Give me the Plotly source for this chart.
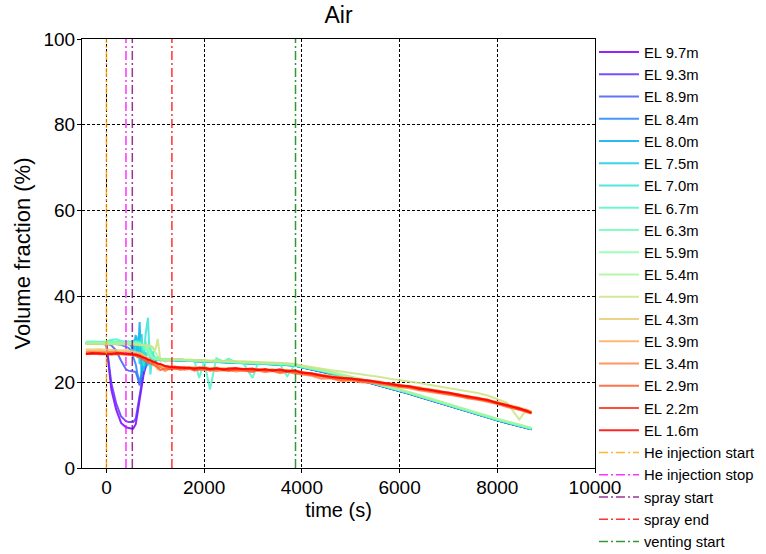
import numpy as np
import plotly.graph_objects as go

# Sample times (s), shared by every measurement series
time_s = [-420, -300, -150, 0, 100, 200, 300, 400, 450, 500,
          550, 600, 640, 680, 720, 760, 800, 850, 900, 950,
          1000, 1050, 1100, 1200, 1300, 1400, 1500, 1600, 1700, 1800,
          1900, 2000, 2120, 2250, 2400, 2500, 2650, 2800, 2990, 3100,
          3250, 3400, 3550, 3700, 3850, 4000, 4200, 4400, 4600, 4800,
          5000, 5200, 5400, 5600, 5800, 6000, 6200, 6400, 6600, 6800,
          7000, 7200, 7400, 7600, 7800, 8000, 8200, 8450, 8600, 8700]

# Air volume fraction (%) at each elevation
el_9_7 = [29.0, 29.0, 29.0, 28.8, 18.3, 13.6, 10.5, 9.5, 9.3, 9.2,
          9.2, 10.2, 13.0, 16.2, 19.0, 21.8, 23.4, 24.5, 25.1, 25.3,
          25.4, 25.4, 25.4, 25.4, 25.4, 25.3, 25.3, 25.2, 25.2, 25.1,
          25.1, 25.0, 25.0, 24.9, 24.9, 24.8, 24.7, 24.7, 24.6, 24.5,
          24.5, 24.4, 24.3, 24.2, 24.1, 23.5, 23.0, 22.5, 22.0, 21.5,
          21.0, 20.4, 19.8, 19.2, 18.6, 18.0, 17.3, 16.6, 15.9, 15.2,
          14.5, 13.8, 13.1, 12.4, 11.8, 11.1, 10.5, 9.8, 9.3, 9.0]
el_9_3 = [29.1, 29.1, 29.0, 28.9, 19.8, 15.0, 12.0, 10.9, 10.7, 10.7,
          10.7, 11.5, 14.2, 17.2, 19.8, 22.3, 23.8, 24.7, 25.1, 25.3,
          25.3, 25.3, 25.3, 25.3, 25.3, 25.2, 25.2, 25.1, 25.1, 25.0,
          25.0, 24.9, 24.9, 24.8, 24.8, 24.7, 24.6, 24.6, 24.5, 24.4,
          24.4, 24.3, 24.2, 24.1, 24.0, 23.5, 23.0, 22.5, 22.0, 21.5,
          21.0, 20.4, 19.8, 19.2, 18.6, 18.0, 17.3, 16.6, 15.9, 15.2,
          14.5, 13.8, 13.1, 12.4, 11.8, 11.1, 10.5, 9.8, 9.3, 9.0]
el_8_9 = [29.0, 29.0, 29.0, 29.0, 28.6, 27.4, 25.0, 23.0, 22.7, 22.6,
          22.6, 22.4, 21.0, 19.2, 21.5, 23.8, 24.8, 25.2, 25.3, 25.3,
          25.3, 25.2, 25.2, 25.2, 25.2, 25.1, 25.1, 25.0, 25.0, 24.9,
          24.9, 24.8, 24.8, 24.7, 24.7, 24.6, 24.5, 24.5, 24.4, 24.3,
          24.3, 24.2, 24.1, 24.0, 23.9, 23.5, 23.0, 22.5, 22.0, 21.5,
          21.0, 20.4, 19.8, 19.2, 18.6, 18.0, 17.3, 16.6, 15.9, 15.2,
          14.5, 13.8, 13.1, 12.4, 11.8, 11.1, 10.5, 9.8, 9.3, 9.0]
el_8_4 = [29.0, 29.0, 29.0, 29.0, 29.0, 28.9, 28.7, 28.3, 28.0, 27.4,
          26.0, 24.2, 21.6, 20.0, 22.3, 24.6, 25.2, 25.3, 25.3, 25.2,
          25.2, 25.2, 25.2, 25.2, 25.2, 25.1, 25.1, 25.0, 25.0, 24.9,
          24.9, 24.8, 24.8, 24.7, 24.7, 24.6, 24.5, 24.5, 24.4, 24.3,
          24.3, 24.2, 24.1, 24.0, 23.9, 23.5, 23.1, 22.6, 22.1, 21.6,
          21.1, 20.5, 19.9, 19.3, 18.7, 18.1, 17.4, 16.7, 16.0, 15.3,
          14.6, 13.9, 13.2, 12.5, 11.9, 11.2, 10.6, 9.9, 9.4, 9.1]
el_8_0 = [29.0, 29.0, 29.0, 29.0, 29.2, 29.0, 29.1, 29.0, 28.9, 28.6,
          27.2, 31.0, 25.6, 34.0, 21.2, 27.5, 23.5, 25.6, 24.9, 25.3,
          25.2, 25.2, 25.2, 25.1, 25.2, 25.1, 25.1, 25.0, 25.0, 24.9,
          24.9, 24.8, 24.8, 24.7, 24.7, 24.6, 24.5, 24.5, 24.4, 24.3,
          24.3, 24.2, 24.1, 24.0, 23.9, 23.5, 23.1, 22.6, 22.1, 21.6,
          21.1, 20.5, 19.9, 19.3, 18.7, 18.1, 17.4, 16.7, 16.0, 15.3,
          14.6, 13.9, 13.2, 12.5, 11.9, 11.2, 10.6, 9.9, 9.4, 9.1]
el_7_5 = [29.1, 29.1, 29.0, 29.1, 29.3, 29.1, 29.2, 29.1, 29.0, 29.2,
          29.6, 27.0, 30.6, 24.2, 31.2, 22.6, 27.0, 24.0, 25.6, 25.0,
          25.3, 25.2, 25.2, 25.1, 25.2, 25.1, 25.1, 25.0, 25.0, 24.9,
          24.9, 24.8, 24.8, 24.7, 24.7, 24.6, 24.5, 24.5, 24.4, 24.3,
          24.3, 24.2, 24.1, 24.0, 23.9, 23.5, 23.1, 22.6, 22.1, 21.6,
          21.1, 20.5, 19.9, 19.3, 18.7, 18.1, 17.4, 16.7, 16.0, 15.3,
          14.6, 13.9, 13.2, 12.5, 11.9, 11.2, 10.6, 9.9, 9.4, 9.1]
el_7_0 = [29.2, 29.2, 29.1, 29.2, 29.6, 29.3, 29.4, 29.2, 29.1, 29.2,
          29.0, 29.3, 29.6, 28.2, 30.4, 23.8, 31.0, 35.0, 21.8, 27.2,
          24.2, 25.6, 25.0, 25.3, 25.2, 25.2, 25.1, 25.1, 25.0, 25.0,
          24.9, 24.9, 24.8, 24.8, 24.7, 24.6, 24.6, 24.5, 24.4, 24.4,
          24.3, 24.2, 24.2, 24.1, 24.0, 23.6, 23.1, 22.6, 22.1, 21.6,
          21.1, 20.5, 19.9, 19.3, 18.7, 18.1, 17.4, 16.7, 16.0, 15.3,
          14.6, 13.9, 13.2, 12.5, 11.9, 11.2, 10.6, 9.9, 9.4, 9.1]
el_6_7 = [29.4, 29.5, 29.4, 29.5, 29.9, 30.0, 29.6, 29.5, 29.4, 29.5,
          29.4, 29.6, 29.2, 29.5, 29.0, 27.2, 29.6, 26.2, 28.2, 24.6,
          25.8, 25.2, 25.4, 25.2, 25.3, 25.2, 25.1, 25.1, 25.0, 25.0,
          21.0, 24.9, 18.3, 25.6, 24.8, 25.5, 24.6, 24.5, 21.0, 24.4,
          24.3, 24.3, 24.2, 21.4, 24.0, 23.6, 23.2, 22.7, 22.2, 21.7,
          21.2, 20.6, 20.0, 19.4, 18.8, 18.2, 17.5, 16.8, 16.1, 15.4,
          14.7, 14.0, 13.3, 12.6, 12.0, 11.3, 10.7, 10.0, 9.5, 9.2]
el_6_3 = [29.3, 29.3, 29.3, 29.3, 29.5, 29.4, 29.4, 29.3, 29.3, 29.3,
          29.2, 29.3, 29.1, 29.0, 28.6, 28.8, 27.5, 28.5, 26.0, 25.6,
          25.4, 25.3, 25.3, 25.2, 25.3, 25.2, 25.2, 25.1, 25.1, 25.0,
          25.0, 24.9, 24.9, 24.8, 24.8, 24.7, 24.6, 24.6, 24.5, 24.4,
          24.4, 24.3, 24.2, 24.1, 24.0, 23.6, 23.2, 22.7, 22.2, 21.7,
          21.2, 20.6, 20.0, 19.4, 18.8, 18.2, 17.5, 16.8, 16.1, 15.4,
          14.7, 14.0, 13.3, 12.6, 12.0, 11.3, 10.7, 10.0, 9.5, 9.2]
el_5_9 = [29.2, 29.2, 29.2, 29.2, 29.3, 29.2, 29.3, 29.2, 29.2, 29.1,
          29.1, 29.0, 29.0, 28.9, 28.8, 28.6, 28.4, 27.6, 26.4, 25.8,
          25.5, 25.4, 25.3, 25.3, 25.3, 25.3, 25.2, 25.2, 25.1, 25.1,
          25.0, 25.0, 24.9, 24.9, 24.8, 24.8, 24.7, 24.6, 24.6, 24.5,
          24.5, 24.4, 24.3, 24.2, 24.1, 23.7, 23.3, 22.8, 22.3, 21.8,
          21.3, 20.7, 20.1, 19.5, 18.9, 18.3, 17.6, 16.9, 16.2, 15.5,
          14.8, 14.1, 13.4, 12.7, 12.1, 11.4, 10.8, 10.1, 9.6, 9.3]
el_5_4 = [29.0, 29.0, 29.0, 29.0, 29.0, 29.0, 29.0, 28.9, 28.9, 28.9,
          28.9, 28.8, 28.8, 28.7, 28.7, 28.6, 28.6, 28.5, 28.3, 27.8,
          27.0, 26.0, 25.5, 25.4, 25.4, 25.4, 25.3, 25.3, 25.2, 25.2,
          25.1, 25.1, 25.0, 25.0, 24.9, 24.9, 24.8, 24.7, 24.7, 24.6,
          24.6, 24.5, 24.4, 24.3, 24.2, 23.8, 23.4, 22.9, 22.4, 21.9,
          21.4, 20.8, 20.2, 19.6, 19.0, 18.4, 17.7, 17.0, 16.3, 15.6,
          14.9, 14.2, 13.5, 12.8, 12.2, 11.5, 10.9, 10.2, 9.7, 9.4]
el_4_9 = [28.9, 28.9, 28.9, 28.9, 28.9, 28.9, 28.9, 28.9, 28.8, 28.8,
          28.8, 28.8, 28.7, 28.7, 28.7, 28.6, 28.6, 28.6, 28.5, 28.2,
          27.4, 30.1, 25.4, 24.8, 25.2, 25.4, 25.3, 25.2, 25.3, 25.2,
          25.1, 25.2, 25.0, 25.1, 24.9, 25.0, 24.8, 24.9, 24.7, 24.7,
          24.6, 24.6, 24.5, 24.4, 24.3, 23.9, 23.5, 23.1, 22.8, 22.5,
          22.2, 21.9, 21.5, 21.2, 20.8, 20.5, 20.2, 19.8, 19.4, 19.0,
          18.6, 18.2, 17.9, 17.5, 16.9, 16.0, 15.2, 11.3, 13.6, 13.2]
el_4_3 = [27.7, 27.6, 27.7, 27.6, 27.5, 27.6, 27.4, 27.5, 27.4, 27.3,
          27.2, 27.1, 27.0, 26.8, 26.6, 26.3, 26.0, 25.7, 25.3, 24.9,
          24.5, 24.1, 23.6, 23.8, 23.6, 23.7, 23.5, 23.6, 23.4, 23.5,
          23.4, 23.5, 23.3, 23.4, 23.2, 23.3, 23.1, 23.2, 23.0, 23.1,
          22.9, 23.0, 22.8, 22.9, 22.7, 22.5, 22.2, 21.8, 21.5, 21.2,
          21.0, 20.7, 20.4, 20.1, 19.8, 19.5, 19.2, 18.8, 18.4, 18.0,
          17.7, 17.3, 16.8, 16.5, 16.0, 15.4, 14.9, 14.1, 13.6, 13.1]
el_3_9 = [27.3, 27.2, 27.3, 27.2, 27.1, 27.2, 27.0, 27.1, 27.0, 26.9,
          26.9, 26.8, 26.6, 26.5, 26.3, 26.0, 25.8, 25.4, 25.0, 24.6,
          24.0, 22.9, 23.8, 23.5, 23.4, 23.6, 23.3, 23.5, 23.3, 23.4,
          23.2, 23.3, 23.2, 23.0, 23.2, 23.0, 23.1, 22.9, 23.0, 22.8,
          22.9, 22.7, 22.8, 22.6, 22.5, 22.2, 21.9, 21.6, 21.3, 21.0,
          20.8, 20.5, 20.2, 19.9, 19.6, 19.3, 19.0, 18.6, 18.2, 17.8,
          17.4, 17.0, 16.6, 16.1, 15.7, 15.3, 14.7, 13.8, 13.4, 13.0]
el_3_4 = [27.0, 27.1, 26.9, 27.0, 26.9, 27.1, 26.8, 26.9, 26.8, 26.7,
          26.6, 26.5, 26.3, 26.2, 26.0, 25.8, 25.4, 25.2, 24.7, 24.5,
          24.2, 23.9, 23.6, 22.6, 23.2, 23.0, 23.2, 22.9, 23.1, 22.7,
          23.0, 22.8, 22.9, 22.6, 22.8, 22.9, 22.5, 22.7, 22.4, 22.7,
          22.3, 22.6, 22.1, 22.4, 22.0, 21.8, 21.5, 20.8, 20.9, 20.2,
          20.4, 20.0, 19.9, 19.5, 19.3, 18.8, 18.6, 18.1, 17.8, 17.4,
          17.1, 16.7, 16.2, 15.9, 15.4, 14.9, 14.2, 13.6, 13.0, 12.7]
el_2_9 = [26.5, 26.7, 26.5, 26.6, 26.4, 26.6, 26.5, 26.4, 26.5, 26.3,
          26.3, 26.1, 26.0, 25.8, 25.5, 25.2, 25.0, 24.6, 24.4, 24.0,
          23.8, 23.5, 22.8, 23.2, 23.0, 23.3, 22.9, 23.1, 23.2, 22.8,
          23.0, 23.1, 22.7, 23.0, 22.8, 22.6, 22.9, 22.8, 22.5, 22.9,
          22.6, 22.7, 22.4, 22.5, 22.3, 22.0, 21.7, 21.3, 21.0, 20.6,
          20.6, 20.2, 20.1, 19.7, 19.4, 19.0, 18.8, 18.3, 18.0, 17.6,
          17.3, 16.8, 16.4, 16.0, 15.6, 15.0, 14.4, 13.7, 13.1, 12.8]
el_2_2 = [26.7, 26.6, 26.8, 26.6, 26.7, 26.5, 26.8, 26.5, 26.6, 26.6,
          26.4, 26.5, 26.2, 26.2, 25.8, 25.7, 25.6, 25.1, 25.1, 24.6,
          24.7, 24.2, 24.3, 23.7, 23.5, 23.6, 23.3, 23.4, 23.2, 23.3,
          23.2, 23.4, 23.0, 23.1, 23.1, 22.9, 23.1, 23.1, 22.9, 23.0,
          22.8, 22.9, 22.7, 22.7, 22.5, 22.4, 21.9, 21.7, 21.1, 21.1,
          20.7, 20.7, 20.2, 20.1, 19.5, 19.4, 18.9, 18.7, 18.1, 18.0,
          17.4, 17.2, 16.5, 16.4, 15.7, 15.3, 14.5, 14.0, 13.2, 12.8]
el_1_6 = [26.6, 26.8, 26.7, 26.7, 26.6, 26.8, 26.7, 26.6, 26.7, 26.5,
          26.5, 26.4, 26.3, 26.1, 25.9, 25.8, 25.5, 25.3, 25.0, 24.8,
          24.6, 24.4, 24.2, 23.8, 23.6, 23.4, 23.5, 23.3, 23.4, 23.1,
          23.4, 23.2, 23.1, 23.3, 22.9, 23.2, 23.3, 23.0, 23.2, 22.8,
          23.1, 22.7, 23.0, 22.5, 22.8, 22.2, 22.1, 21.5, 21.3, 20.9,
          20.9, 20.5, 20.4, 19.9, 19.7, 19.2, 19.1, 18.5, 18.3, 17.8,
          17.6, 17.0, 16.7, 16.2, 15.9, 15.1, 14.7, 13.8, 13.4, 12.9]

series_names = ["EL 9.7m", "EL 9.3m", "EL 8.9m", "EL 8.4m", "EL 8.0m", "EL 7.5m",
                "EL 7.0m", "EL 6.7m", "EL 6.3m", "EL 5.9m", "EL 5.4m", "EL 4.9m",
                "EL 4.3m", "EL 3.9m", "EL 3.4m", "EL 2.9m", "EL 2.2m", "EL 1.6m"]
series_values = [el_9_7, el_9_3, el_8_9, el_8_4, el_8_0, el_7_5, el_7_0, el_6_7, el_6_3,
                 el_5_9, el_5_4, el_4_9, el_4_3, el_3_9, el_3_4, el_2_9, el_2_2, el_1_6]

# Test events (s)
event_names = ["He injection start", "He injection stop", "spray start", "spray end", "venting start"]
event_times = [0, 400, 530, 1340, 3870]
event_colors = ["orange", "magenta", "purple", "red", "green"]

x_ticks = [0, 2000, 4000, 6000, 8000, 10000]
y_ticks = [0, 20, 40, 60, 80, 100]


def rainbow(x):
    """matplotlib-style 'rainbow' colormap."""
    r = min(1.0, abs(2 * x - 0.5))
    g = np.sin(np.pi * x)
    b = np.cos(np.pi * x / 2)
    return "rgb({:.0f},{:.0f},{:.0f})".format(255 * r, 255 * max(g, 0), 255 * max(b, 0))


fig = go.Figure()
n = len(series_names)
for i, (name, vals) in enumerate(zip(series_names, series_values)):
    fig.add_trace(go.Scatter(
        x=time_s, y=vals, mode="lines", name=name,
        line=dict(color=rainbow(i / (n - 1)), width=2),
        opacity=0.85,
    ))

for name, t, c in zip(event_names, event_times, event_colors):
    fig.add_trace(go.Scatter(
        x=[t, t], y=[0, 100], mode="lines", name=name,
        line=dict(color=c, width=1.5, dash="9px,3px,2px,3px"),
        opacity=0.8,
    ))

font_family = "Liberation Sans, Arial, sans-serif"
axis_common = dict(
    showline=True, linecolor="black", linewidth=1, mirror=True,
    ticks="outside", ticklen=4, tickwidth=1, tickcolor="black",
    showgrid=True, gridcolor="black", gridwidth=0.8, griddash="3px,2px",
    zeroline=False, ticklabelstandoff=-2,
    tickfont=dict(size=19, color="black", family=font_family),
)

fig.update_layout(
    width=766, height=554,
    margin=dict(l=82, r=171, t=39, b=86, autoexpand=False),
    paper_bgcolor="white", plot_bgcolor="white",
    font=dict(family=font_family, color="black"),
    title=dict(text="Air", x=0.5, xref="paper", xanchor="center",
               y=1 - 15 / 554, yanchor="middle", font=dict(size=23, color="black")),
    xaxis=dict(range=[-500, 10000], tickvals=x_ticks, ticktext=[str(v) for v in x_ticks],
               title=dict(text="time (s)", font=dict(size=20), standoff=6), **axis_common),
    yaxis=dict(range=[0, 100], tickvals=y_ticks, ticktext=[str(v) for v in y_ticks],
               title=dict(text="Volume fraction (%)", font=dict(size=22), standoff=6), **axis_common),
    legend=dict(x=0.998, xanchor="left", y=1.007, yanchor="top",
                font=dict(size=14.8, color="black"),
                bgcolor="rgba(255,255,255,0)", borderwidth=0,
                itemwidth=40, tracegroupgap=0, maxheight=600),
    showlegend=True,
)

fig.write_html("out.html")
